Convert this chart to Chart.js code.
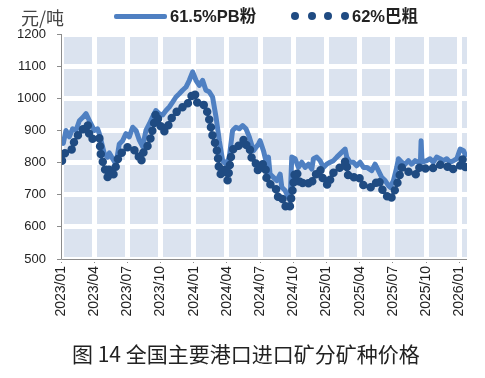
<!DOCTYPE html>
<html>
<head>
<meta charset="utf-8">
<script src="https://cdn.jsdelivr.net/npm/chart.js@4.4.1/dist/chart.umd.min.js"></script>
<style>
  html, body { margin: 0; padding: 0; background: #fff; }
  #wrap { position: relative; width: 485px; height: 378px; overflow: hidden; font-family: "Liberation Sans", "Noto Sans CJK SC", sans-serif; }
  #c { position: absolute; left: 0; top: 0; }
  .txt { position: absolute; white-space: nowrap; }
  #unit { left: 21px; top: 5px; font-size: 18px; color: #444; font-family: "Noto Sans CJK SC", sans-serif; line-height: 24px; }
  #leg1line { position: absolute; left: 114px; top: 14px; width: 53px; height: 5px; background: #4f80c2; border-radius: 2px; }
  #leg1 { left: 170px; top: 4px; font-size: 16.5px; font-weight: bold; color: #222; line-height: 24px; }
  .dot { position: absolute; top: 12px; width: 8px; height: 8px; border-radius: 50%; background: #1f4b82; }
  #leg2 { left: 352px; top: 4px; font-size: 16.5px; font-weight: bold; color: #222; line-height: 24px; }
  #cap { left: 72px; top: 339px; font-size: 21px; color: #222; font-family: "Noto Sans CJK SC", sans-serif; line-height: 28px; }
</style>
</head>
<body>
<div id="wrap">
  <canvas id="c" width="485" height="340"></canvas>
  <div class="txt" id="unit">元/吨</div>
  <div id="leg1line"></div>
  <div class="txt" id="leg1">61.5%PB粉</div>
  <div class="dot" style="left:291px"></div>
  <div class="dot" style="left:308px"></div>
  <div class="dot" style="left:324px"></div>
  <div class="dot" style="left:341px"></div>
  <div class="txt" id="leg2">62%巴粗</div>
  <div class="txt" id="cap">图 14 全国主要港口进口矿分矿种价格</div>
</div>
<script>
// x values are months since 2023/01
const xTickLabels = ['2023/01','2023/04','2023/07','2023/10','2024/01','2024/04','2024/07','2024/10','2025/01','2025/04','2025/07','2025/10','2026/01'];
const yTicks = [500, 600, 700, 800, 900, 1000, 1100, 1200];

const pbX = [0.00,0.21,0.45,0.75,1.05,1.36,1.66,1.96,2.26,2.50,2.71,3.01,3.31,3.46,3.61,3.92,4.22,4.37,4.67,4.97,5.27,5.57,5.87,6.17,6.48,6.78,7.08,7.38,7.68,7.98,8.28,8.58,8.89,9.19,9.49,9.79,10.09,10.39,10.69,10.99,11.30,11.60,11.90,12.20,12.50,12.80,13.10,13.40,13.70,14.01,14.31,14.61,14.91,15.21,15.51,15.81,16.11,16.42,16.72,17.02,17.40,17.85,18.00,18.30,18.60,18.75,18.90,19.20,19.51,19.81,19.96,20.26,20.56,20.71,20.86,21.16,21.46,21.77,22.07,22.37,22.67,22.82,23.12,23.42,23.72,24.02,24.33,24.63,24.93,25.23,25.68,25.83,26.13,26.43,26.73,27.04,27.34,27.64,28.09,28.39,28.69,28.99,29.30,29.60,29.75,30.05,30.35,30.50,30.80,31.10,31.40,31.70,32.01,32.31,32.49,32.55,32.64,33.06,33.36,33.66,33.96,34.27,34.57,34.87,35.17,35.48,35.78,36.08,36.39,36.63];
const pbY = [870,860,900,880,905,900,930,940,952,935,920,900,905,890,870,827,817,830,812,795,858,868,890,880,910,900,870,850,900,920,942,962,952,948,962,973,988,1004,1014,1025,1035,1056,1082,1056,1040,1056,1025,1020,1004,942,868,806,796,815,900,910,905,915,905,880,837,858,868,837,795,817,764,754,744,764,723,713,692,682,817,812,785,801,785,795,780,812,817,806,785,795,801,806,817,827,842,817,801,801,790,801,785,785,775,795,775,754,744,728,723,744,785,812,801,795,806,795,806,801,801,868,801,806,812,801,817,812,806,812,801,806,812,842,837,817];

const brX = [0.09,0.30,0.60,1.05,1.20,1.51,1.81,2.11,2.41,2.62,3.01,3.46,3.61,3.92,4.22,4.37,4.67,4.97,5.27,5.57,6.02,6.48,6.93,7.23,7.53,7.83,8.13,8.43,8.58,8.89,9.19,9.55,9.85,10.39,10.84,11.14,11.45,11.75,12.05,12.35,12.80,13.10,13.46,13.70,13.95,14.16,14.31,14.55,14.91,15.06,15.36,15.66,16.11,16.57,16.87,17.05,17.25,17.55,17.76,18.15,18.45,18.60,18.90,19.27,19.51,19.66,19.96,20.35,20.65,20.95,21.16,21.46,21.61,21.92,22.22,22.52,22.97,23.42,23.72,24.17,24.48,25.17,25.77,25.98,26.43,26.89,27.19,27.64,28.24,28.69,29.08,29.75,30.05,30.50,30.80,31.25,31.70,32.16,32.46,33.06,33.51,33.96,34.42,34.87,35.26,35.62,36.08,36.28,36.67];
const brY = [806,827,837,842,868,884,895,910,919,874,874,879,822,785,754,785,754,790,827,832,848,845,827,801,842,852,879,926,954,926,895,900,931,957,962,983,983,1004,1020,983,983,973,926,884,858,827,770,760,785,744,817,852,852,874,842,845,812,806,775,795,795,744,733,728,713,686,692,660,655,718,775,760,728,739,744,728,760,780,744,728,764,783,806,754,754,760,733,723,723,749,713,683,702,746,785,775,764,764,790,780,780,790,795,790,775,785,790,812,775];

const bgPlugin = {
  id: 'bgcells',
  beforeDraw(chart) {
    const { ctx, chartArea: a } = chart;
    ctx.save();
    ctx.fillStyle = '#dbe3ef';
    ctx.fillRect(a.left, a.top, a.right - a.left, a.bottom - a.top);
    ctx.restore();
  },
  afterDraw(chart) {
    const { ctx, chartArea: a } = chart;
    ctx.save();
    ctx.strokeStyle = '#8c8c8c';
    ctx.lineWidth = 1;
    ctx.beginPath();
    ctx.moveTo(a.left + 0.5, a.top);
    ctx.lineTo(a.left + 0.5, a.bottom + 0.5);
    ctx.lineTo(a.right, a.bottom + 0.5);
    ctx.stroke();
    ctx.restore();
  }
};

new Chart(document.getElementById('c'), {
  type: 'line',
  data: {
    datasets: [
      {
        label: '61.5%PB粉',
        data: pbX.map((x, i) => ({ x, y: pbY[i] })),
        borderColor: '#4f80c2',
        borderWidth: 5,
        pointRadius: 0,
        tension: 0,
        borderJoinStyle: 'round',
        order: 2
      },
      {
        label: '62%巴粗',
        data: brX.map((x, i) => ({ x, y: brY[i] })),
        borderColor: '#1f4b82',
        borderWidth: 8.5,
        borderDash: [0, 8],
        borderCapStyle: 'round',
        pointRadius: 0,
        tension: 0,
        order: 1
      }
    ]
  },
  options: {
    responsive: false,
    devicePixelRatio: 1,
    animation: false,
    layout: { padding: { left: 0, right: 18, top: 34, bottom: 0 } },
    plugins: { legend: { display: false }, tooltip: { enabled: false } },
    scales: {
      x: {
        type: 'linear',
        min: 0,
        max: 36.7,
        afterFit: (s) => { s.height = 81; },
        border: { display: false },
        grid: { color: '#ffffff', lineWidth: 5, drawTicks: true, tickColor: '#8c8c8c', tickWidth: 1, tickLength: 4 },
        ticks: {
          stepSize: 3,
          includeBounds: false,
          autoSkip: false,
          minRotation: 90,
          maxRotation: 90,
          padding: 3,
          color: '#222',
          font: { family: 'Liberation Sans', size: 14 },
          callback: (v) => (v % 3 === 0 ? xTickLabels[v / 3] : '')
        }
      },
      y: {
        min: 500,
        max: 1200,
        afterFit: (s) => { s.width = 61; },
        border: { display: false },
        grid: { color: '#ffffff', lineWidth: 5, drawTicks: true, tickColor: '#8c8c8c', tickWidth: 1, tickLength: 4 },
        afterBuildTicks: (s) => { s.ticks = yTicks.map(v => ({ value: v })); },
        ticks: {
          padding: 11,
          color: '#222',
          font: { family: 'Liberation Sans', size: 13 },
          callback: (v) => String(v)
        }
      }
    }
  },
  plugins: [bgPlugin]
});
</script>
</body>
</html>
